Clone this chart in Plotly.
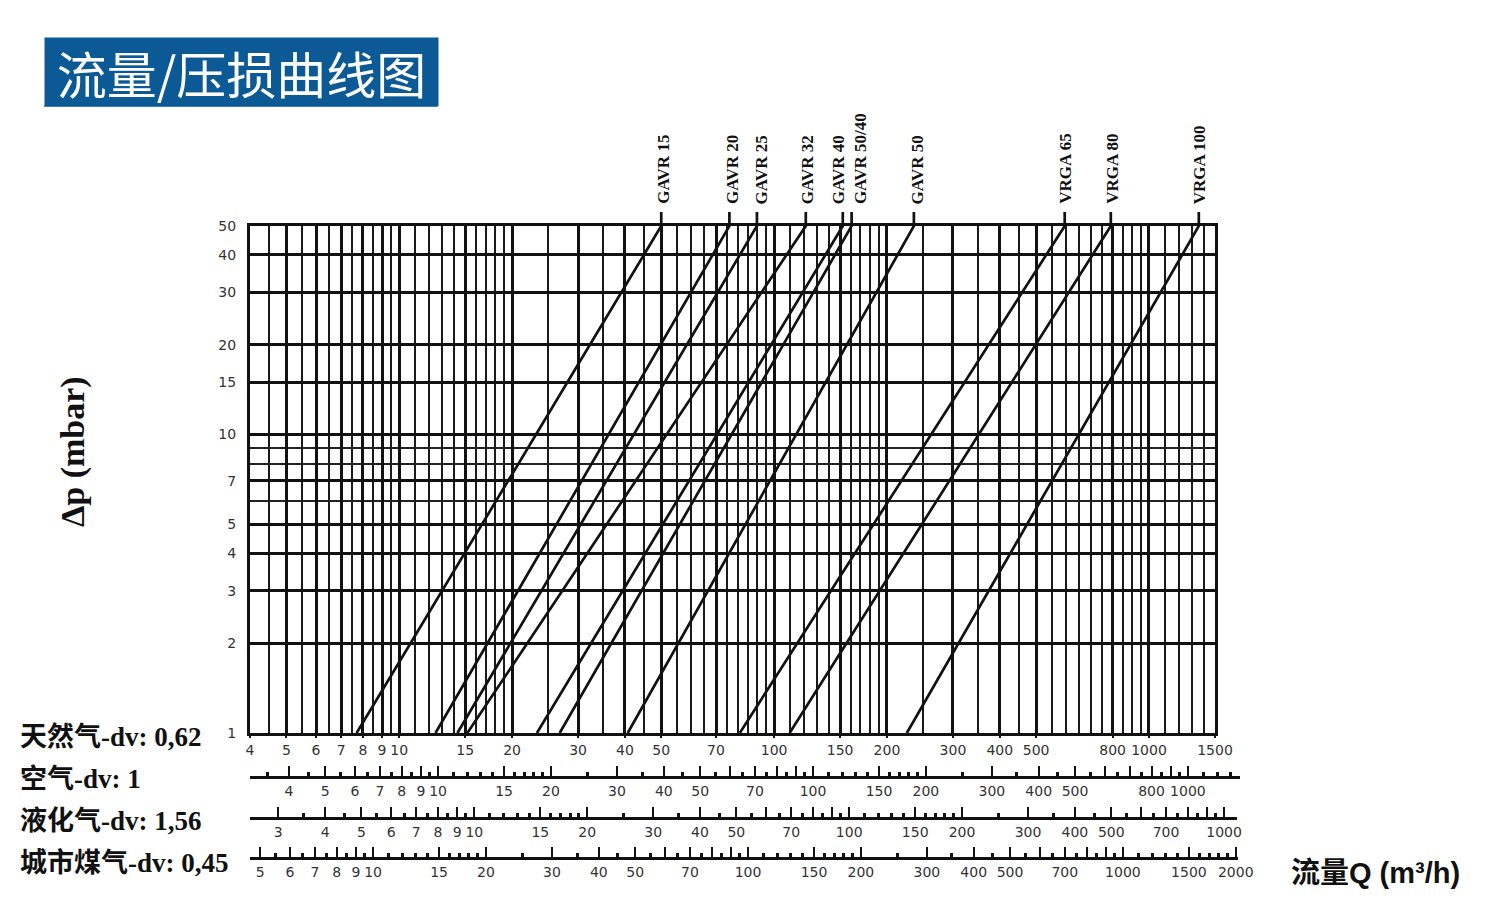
import math
import plotly.graph_objects as go

# ---------------- data ----------------
valve_names = ["GAVR 15", "GAVR 20", "GAVR 25", "GAVR 32", "GAVR 40",
               "GAVR 50/40", "GAVR 50", "VRGA 65", "VRGA 80", "VRGA 100"]
# natural-gas flow (m3/h) read where each line meets dp = 1 mbar and dp = 50 mbar
q_at_1mbar = [7.7, 12.5, 14.3, 15.2, 23.3, 26.8, 40.7, 81.0, 110.0, 226.0]
q_at_50mbar = [50.0, 76.0, 90.0, 121.5, 152.5, 161.0, 236.0, 596.0, 791.0, 1358.0]
dp_ends = [1, 50]

ng_labels = [4, 5, 6, 7, 8, 9, 10, 15, 20, 30, 40, 50, 70, 100, 150, 200, 300,
             400, 500, 800, 1000, 1500]
air_labels = [4, 5, 6, 7, 8, 9, 10, 15, 20, 30, 40, 50, 70, 100, 150, 200, 300,
              400, 500, 800, 1000]
lpg_labels = [3, 4, 5, 6, 7, 8, 9, 10, 15, 20, 30, 40, 50, 70, 100, 150, 200,
              300, 400, 500, 700, 1000]
city_labels = [5, 6, 7, 8, 9, 10, 15, 20, 30, 40, 50, 70, 100, 150, 200, 300,
               400, 500, 700, 1000, 1500, 2000]
long_ticks = [3, 4, 5, 6, 7, 8, 9, 10, 15, 20, 30, 40, 50, 60, 70, 80, 90, 100,
              150, 200, 300, 400, 500, 600, 700, 800, 900, 1000, 1500, 2000]
short_ticks = [2.5, 3.5, 4.5, 5.5, 6.5, 7.5, 8.5, 9.5, 11, 12, 13, 14, 16, 17, 18,
               19, 25, 35, 45, 55, 65, 75, 85, 95, 110, 120, 130, 140, 160, 170,
               180, 190, 250, 350, 450, 550, 650, 750, 850, 950, 1100, 1200,
               1300, 1400, 1600, 1700, 1800, 1900]
dp_labels = [1, 2, 3, 4, 5, 7, 10, 15, 20, 30, 40, 50]
dp_minor = [6, 8, 9]

gas_names = ["天然气-dv: 0,62", "空气-dv: 1", "液化气-dv: 1,56", "城市煤气-dv: 0,45"]
gas_dv = [0.62, 1.0, 1.56, 0.45]

title_text = "流量/压损曲线图"
y_title = "Δp (mbar)"
x_title = "流量Q (m³/h)"

# ---------------- geometry (screen px; page body has an 8px margin) ----------------
W, H = 1500, 900
OFF = 8
L, T = 250 - OFF, 200 - OFF
R = W - (1250 - OFF)
B = H - (870 - OFF)
PW, PH = 1000, 670


def fx(px):
    return (px - 250) / PW


def fy(py):
    return (870 - py) / PH


PX0, PX1 = 250, 1215       # plot left / right
PY0, PY1 = 226, 733        # plot top / bottom
TICK_TOP = 212
q_min, q_max = ng_labels[0], ng_labels[-1]
xr = [math.log10(q_min), math.log10(q_max)]
ppd = (PX1 - PX0) / (xr[1] - xr[0])
yr = [math.log10(dp_ends[0]), math.log10(dp_ends[1])]
y5_top = yr[1] * (PY1 - TICK_TOP) / (PY1 - PY0)

INK = "#111111"
tickfont = dict(family="DejaVu Sans", size=14, color="#333333")

fig = go.Figure()

# invisible anchor trace so the main grid subplot is drawn
fig.add_trace(go.Scatter(x=[q_min], y=[dp_ends[0]], xaxis="x", yaxis="y",
                         mode="markers", marker=dict(opacity=0),
                         hoverinfo="skip", showlegend=False))

# valve curves
for name, q1, q50 in zip(valve_names, q_at_1mbar, q_at_50mbar):
    fig.add_trace(go.Scatter(
        x=[q1, q50, q50], y=[dp_ends[0], dp_ends[1], 10 ** y5_top],
        xaxis="x5", yaxis="y5", mode="lines",
        line=dict(color=INK, width=2.7), name=name, showlegend=False,
        hoverinfo="name"))

ng_minor = [v for v in long_ticks + short_ticks if v not in ng_labels]

layout = dict(
    width=W, height=H,
    margin=dict(l=L, r=R, t=T, b=B, pad=0),
    paper_bgcolor="white", plot_bgcolor="rgba(0,0,0,0)",
    showlegend=False,
    xaxis=dict(type="log", range=xr, domain=[fx(PX0), fx(PX1)], anchor="y",
               showline=True, mirror=True, linewidth=3, linecolor=INK,
               tickmode="array", tickvals=ng_labels,
               ticktext=[str(v) for v in ng_labels],
               ticks="outside", ticklen=2, tickwidth=2, tickcolor=INK,
               showgrid=True, gridcolor=INK, gridwidth=3,
               minor=dict(tickvals=ng_minor, showgrid=True, gridcolor="#1a1a1a",
                          gridwidth=2.4, ticks=""),
               tickfont=tickfont, fixedrange=True, zeroline=False),
    yaxis=dict(type="log", range=yr, domain=[fy(PY1), fy(PY0)], anchor="x",
               showline=True, mirror=True, linewidth=3, linecolor=INK,
               tickmode="array", tickvals=dp_labels,
               ticktext=[str(v) for v in dp_labels],
               ticks="", ticklabelstandoff=8,
               showgrid=True, gridcolor=INK, gridwidth=3,
               minor=dict(tickvals=dp_minor, showgrid=True, gridcolor="#222",
                          gridwidth=2, ticks=""),
               tickfont=tickfont, fixedrange=True, zeroline=False),
    xaxis5=dict(type="log", range=xr, domain=[fx(PX0), fx(PX1)], anchor="y5",
                visible=False, fixedrange=True),
    yaxis5=dict(type="log", range=[yr[0], y5_top], domain=[fy(PY1), fy(TICK_TOP)],
                anchor="x5", visible=False, fixedrange=True),
)

# conversion scales for other gases
scale_rows = [(1, 777, 1240, air_labels), (2, 818, 1237, lpg_labels),
              (3, 858, 1238, city_labels)]
for i, (gi, line_y, x_end, labs) in enumerate(scale_rows):
    k = math.sqrt(gas_dv[0] / gas_dv[gi])
    start = math.log10(q_min * k)
    end = start + (x_end - PX0) / ppd
    ax = i + 2
    fig.add_trace(go.Scatter(x=[labs[0]], y=[0.5], xaxis=f"x{ax}", yaxis=f"y{ax}",
                             mode="markers", marker=dict(opacity=0),
                             hoverinfo="skip", showlegend=False))
    layout[f"xaxis{ax}"] = dict(
        type="log", range=[start, end], domain=[fx(PX0), fx(x_end)],
        anchor="free", position=fy(line_y),
        showline=True, linewidth=3, linecolor=INK, showgrid=False,
        tickmode="array", tickvals=long_ticks,
        ticktext=[str(v) if v in labs else "" for v in long_ticks],
        ticks="inside", ticklen=10, tickwidth=2, tickcolor=INK,
        minor=dict(tickvals=short_ticks, ticks="inside", ticklen=4, tickwidth=3,
                   tickcolor=INK, showgrid=False),
        tickfont=tickfont, fixedrange=True, zeroline=False)
    layout[f"yaxis{ax}"] = dict(domain=[0, 0.01], anchor=f"x{ax}", visible=False,
                                range=[0, 1], fixedrange=True)

fig.update_layout(**layout)

ann = []
# valve labels above the chart
label_shift = [2, 3, 5, 2, -4, 9, 4, 0, 1, 1]
for name, q50, sh in zip(valve_names, q_at_50mbar, label_shift):
    ann.append(dict(text=f"<b>{name}</b>", xref="x5", x=math.log10(q50), xshift=sh,
                    yref="paper", y=fy(TICK_TOP - 6), xanchor="center",
                    yanchor="bottom", textangle=-90, showarrow=False,
                    font=dict(family="Liberation Serif", size=17, color=INK)))
# gas row labels
for name, yc in zip(gas_names, [737, 779, 821, 862]):
    ann.append(dict(text=f"<b>{name}</b>", xref="paper", x=fx(18), yref="paper",
                    y=fy(yc), xanchor="left", yanchor="middle", showarrow=False,
                    font=dict(family="Liberation Serif, Noto Sans CJK SC", size=27,
                              color=INK)))
# axis titles
ann.append(dict(text=f"<b>{y_title}</b>", xref="paper", x=fx(73), yref="paper",
                y=fy(452), xanchor="center", yanchor="middle", textangle=-90,
                showarrow=False,
                font=dict(family="Liberation Serif", size=34, color=INK)))
ann.append(dict(text=f"<b>{x_title}</b>", xref="paper", x=fx(1289), yref="paper",
                y=fy(873), xanchor="left", yanchor="middle", showarrow=False,
                font=dict(family="Liberation Sans, Noto Sans CJK SC", size=29,
                          color=INK)))
# title box
ann.append(dict(text=title_text, xref="paper", x=fx(44), yref="paper", y=fy(37),
                xanchor="left", yanchor="top", width=393, height=68, borderpad=0,
                bgcolor="#0B5A96", align="center", valign="middle",
                showarrow=False,
                font=dict(family="Noto Sans CJK SC", size=50, color="white")))
fig.update_layout(annotations=ann)
fig.add_shape(type="line", xref="paper", yref="paper", x0=fx(44), x1=fx(437),
              y0=fy(106), y1=fy(106), line=dict(color="#6f9fc9", width=2))

fig.write_html("out.html")
